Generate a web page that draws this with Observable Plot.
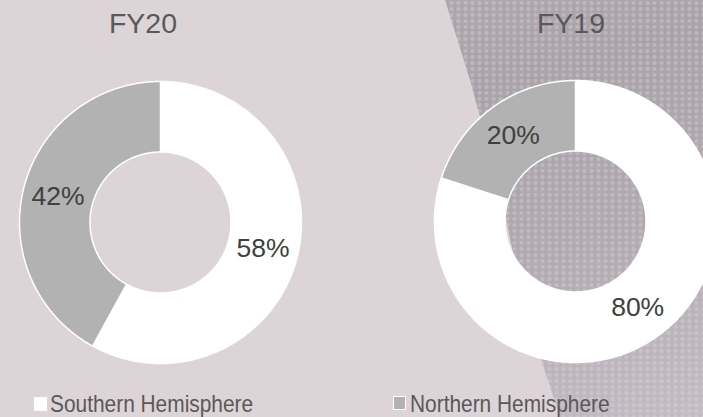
<!DOCTYPE html>
<html><head><meta charset="utf-8">
<script src="https://cdn.jsdelivr.net/npm/d3@7"></script>
<script src="https://cdn.jsdelivr.net/npm/@observablehq/plot@0.6"></script>
<style>
html,body{margin:0;padding:0;background:#ddd4d7;}
#wrap{position:relative;width:703px;height:417px;overflow:hidden;background:#ddd4d7;font-family:"Liberation Sans",Arial,sans-serif;}
#snake{position:absolute;left:0;top:0;width:703px;height:417px;
 clip-path:polygon(445px 0,703px 0,703px 417px,560px 417px,525px 310px,500px 190px,470px 80px);
 background:
  radial-gradient(circle at 50% 50%, rgba(225,218,224,0.35) 0 1.4px, rgba(0,0,0,0) 2.8px) 0 0/7px 6px,
  linear-gradient(165deg,#b4adb3 0%,#a9a2a8 35%,#b0a9af 65%,#c4bcc2 100%);}
.title{position:absolute;width:200px;text-align:center;font-size:28.5px;line-height:28px;color:#595959;top:9px;}
.plot{position:absolute;width:340px;height:340px;}
.plot svg{max-width:none !important;}
.leg{position:absolute;top:392px;font-size:24px;line-height:24px;color:#595959;white-space:nowrap;transform:scaleX(0.87);transform-origin:left center;}
.sw{position:absolute;width:13px;height:14px;box-sizing:border-box;}
</style></head><body><div id="wrap">
<div id="snake"></div>
</div>
<script>
const years = ["FY20", "FY19"];
const categories = ["Southern Hemisphere", "Northern Hemisphere"];
const southern = [58, 80];
const northern = [42, 20];
const colors = ["#ffffff", "#b2b2b2"];

const wrap = document.getElementById("wrap");
const layout = [{left: -10, top: 52, titleLeft: 43}, {left: 405, top: 51, titleLeft: 471}];
const K = 170 / 141;

years.forEach((yr, i) => {
  const vals = [southern[i], northern[i]];
  const arcs = d3.pie().sort(null)(vals);
  const pts = [];
  arcs.forEach((s, k) => {
    const n = Math.max(2, Math.ceil((s.endAngle - s.startAngle) / 0.01));
    for (let j = 0; j <= n; j++) {
      const a = s.startAngle + (s.endAngle - s.startAngle) * j / n;
      pts.push({cat: categories[k], x: Math.sin(a), y: Math.cos(a)});
    }
    for (let j = n; j >= 0; j--) {
      const a = s.startAngle + (s.endAngle - s.startAngle) * j / n;
      pts.push({cat: categories[k], x: 0.5 * Math.sin(a), y: 0.5 * Math.cos(a)});
    }
  });
  const labs = arcs.map((s, k) => {
    const a = (s.startAngle + s.endAngle) / 2;
    return {x: 0.75 * Math.sin(a), y: 0.75 * Math.cos(a), text: vals[k] + "%"};
  });
  const chart = Plot.plot({
    width: 340, height: 340, margin: 0,
    style: {background: "transparent", fontFamily: "Liberation Sans, Arial, sans-serif", overflow: "visible", maxWidth: "none"},
    x: {domain: [-K, K], axis: null},
    y: {domain: [-K, K], axis: null},
    color: {domain: categories, range: colors},
    marks: [
      Plot.line(pts, {x: "x", y: "y", z: "cat", fill: "cat", stroke: "#ffffff", strokeWidth: 1.5, curve: "linear-closed"}),
      Plot.text(labs, {x: "x", y: "y", text: "text", fontSize: 26.5, fill: "#404040"})
    ]
  });
  const d = document.createElement("div");
  d.className = "plot";
  d.style.left = layout[i].left + "px";
  d.style.top = layout[i].top + "px";
  d.appendChild(chart);
  wrap.appendChild(d);
  const t = document.createElement("div");
  t.className = "title";
  t.style.left = layout[i].titleLeft + "px";
  t.textContent = yr;
  wrap.appendChild(t);
});

const legPos = [{sw: 34, text: 50, top: 397}, {sw: 393, text: 410, top: 396}];
categories.forEach((c, k) => {
  const s = document.createElement("div");
  s.className = "sw";
  s.style.left = legPos[k].sw + "px";
  s.style.top = legPos[k].top + "px";
  s.style.background = colors[k];
  if (k === 1) s.style.border = "1.5px solid #ffffff";
  wrap.appendChild(s);
  const l = document.createElement("div");
  l.className = "leg";
  l.style.left = legPos[k].text + "px";
  l.textContent = c;
  wrap.appendChild(l);
});
</script>
</body></html>
